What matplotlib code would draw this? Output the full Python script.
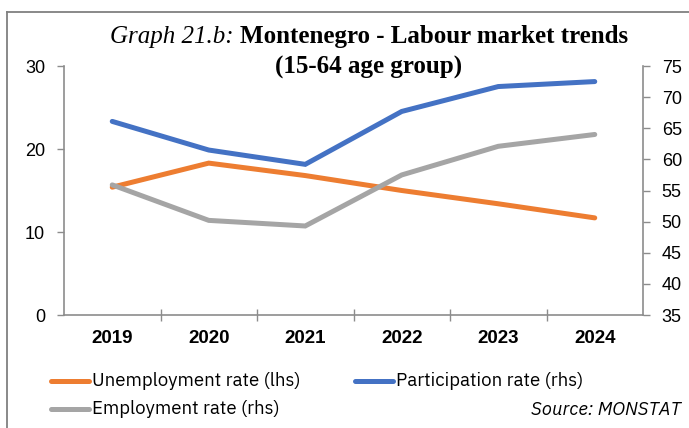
import matplotlib
matplotlib.use("Agg")
import matplotlib.pyplot as plt
from matplotlib.lines import Line2D
import numpy as np

years = ["2019", "2020", "2021", "2022", "2023", "2024"]
unemployment = [15.4, 18.3, 16.8, 15.0, 13.4, 11.7]   # lhs
participation = [66.1, 61.5, 59.2, 67.7, 71.7, 72.5]  # rhs
employment = [55.9, 50.2, 49.3, 57.5, 62.1, 64.0]     # rhs

left_ticks = [0, 10, 20, 30]
right_ticks = [35, 40, 45, 50, 55, 60, 65, 70, 75]

C_ORANGE = "#ED7D31"
C_BLUE = "#4472C4"
C_GRAY = "#A5A5A5"
C_AXIS = "#8C8C8C"

W, H = 689, 428
fig = plt.figure(figsize=(W / 100, H / 100), dpi=100)

SANS = ["Liberation Sans", "DejaVu Sans"]
LEG = ["IBM Plex Sans", "Roboto", "DejaVu Sans"]
SERIF = ["Liberation Serif", "DejaVu Serif"]

# outer frame
fig.add_artist(Line2D([7 / W, 7 / W], [0, 1 - 12 / H], transform=fig.transFigure,
                      color="#808080", lw=1.3))
fig.add_artist(Line2D([7 / W, 1], [1 - 12 / H, 1 - 12 / H], transform=fig.transFigure,
                      color="#808080", lw=1.3))

ax = fig.add_axes([64 / W, 1 - 315 / H, (643 - 64) / W, (315 - 66) / H])
ax2 = ax.twinx()

x = np.arange(len(years))
lw = 3.6
l1, = ax.plot(x, unemployment, color=C_ORANGE, lw=lw, solid_capstyle="round",
              solid_joinstyle="miter", label="Unemployment rate (lhs)", zorder=3)
l2, = ax2.plot(x, participation, color=C_BLUE, lw=lw, solid_capstyle="round",
               solid_joinstyle="miter", label="Participation rate (rhs)", zorder=3)
l3, = ax2.plot(x, employment, color=C_GRAY, lw=lw, solid_capstyle="round",
               solid_joinstyle="miter", label="Employment rate (rhs)", zorder=3)

ax.set_xlim(-0.5, len(years) - 0.5)
ax.set_ylim(0, 30)
ax2.set_ylim(35, 75)
ax.set_yticks(left_ticks)
ax2.set_yticks(right_ticks)
ax.set_yticklabels([str(t) for t in left_ticks], fontsize=13, family=SANS)
ax2.set_yticklabels([str(t) for t in right_ticks], fontsize=13, family=SANS)

ax.set_xticks(x)
ax.set_xticklabels(years, fontsize=13.5, family=SANS, fontweight="bold")
ax.set_xticks(np.arange(-0.5, len(years) + 0.5, 1)[1:-1], minor=True)
ax.tick_params(axis="x", which="major", length=0, pad=11)
ax.tick_params(axis="x", which="minor", length=9, direction="inout", color=C_AXIS, width=1)
ax.tick_params(axis="y", length=5, color=C_AXIS, width=1, pad=8.5)
ax2.tick_params(axis="y", length=5, color=C_AXIS, width=1, pad=8.5)

for a in (ax, ax2):
    for s in a.spines.values():
        s.set_visible(False)
ax.spines["left"].set_visible(True)
ax.spines["bottom"].set_visible(True)
ax2.spines["right"].set_visible(True)
for s in (ax.spines["left"], ax.spines["bottom"], ax2.spines["right"]):
    s.set_color(C_AXIS)
    s.set_linewidth(1.2)

# title: italic label followed by bold heading, centred as one line
renderer = fig.canvas.get_renderer()
title_y = 1 - 37 / H
ta = fig.text(0, title_y, "Graph 21.b: ", fontsize=18, family=SERIF, style="italic",
              va="center")
tb = fig.text(0, title_y, "Montenegro - Labour market trends", fontsize=18, family=SERIF,
              fontweight="bold", va="center")
wa = ta.get_window_extent(renderer).width
wb = tb.get_window_extent(renderer).width
x0 = 369 - (wa + wb) / 2
ta.set_x(x0 / W)
tb.set_x((x0 + wa) / W)
fig.text(369 / W, 1 - 67 / H, "(15-64 age group)", fontsize=18, family=SERIF,
         fontweight="bold", ha="center", va="center")

# legend
def legend_entry(line, xh, yc):
    fig.add_artist(Line2D([(xh + 2) / W, (xh + 40) / W], [1 - yc / H, 1 - yc / H],
                          transform=fig.transFigure, color=line.get_color(), lw=3.6,
                          solid_capstyle="round"))
    fig.text((xh + 43) / W, 1 - yc / H, line.get_label(), fontsize=13.4, family=LEG,
             va="center", ha="left")

legend_entry(l1, 49, 381)
legend_entry(l2, 353, 381)
legend_entry(l3, 49, 409)

fig.text(681 / W, 1 - 410 / H, "Source: MONSTAT", fontsize=13.4, family=LEG,
         style="italic", ha="right", va="center")

fig.savefig("out.png", dpi=100)
